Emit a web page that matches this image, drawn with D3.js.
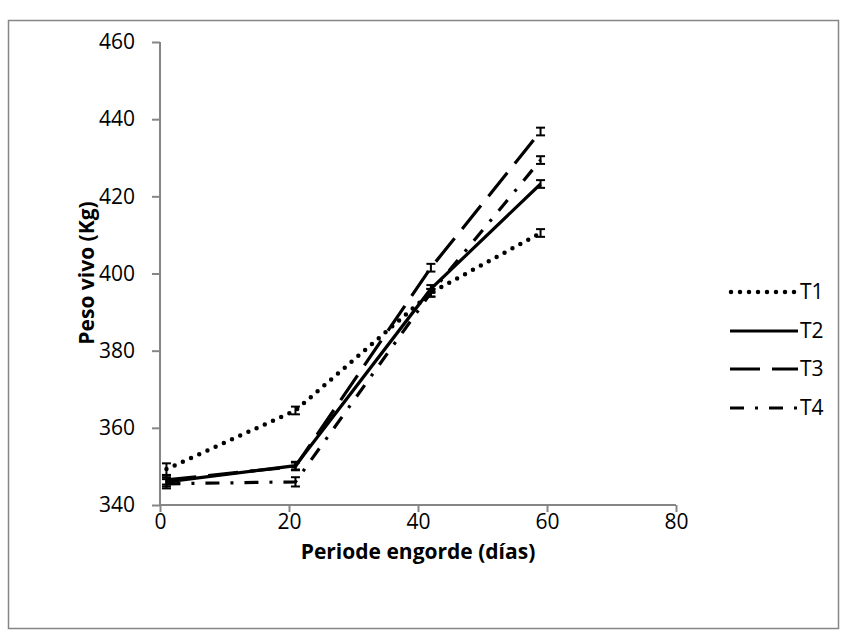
<!DOCTYPE html>
<html><head><meta charset="utf-8">
<script src="https://cdn.jsdelivr.net/npm/d3@7"></script>
<style>body{margin:0;background:#fff}svg{display:block}text{font-family:"Open Sans","Liberation Sans",sans-serif}</style>
</head><body><svg id="c" width="847" height="640"></svg>
<script>
const days = [1, 21, 42, 59];
const seriesNames = ["T1", "T2", "T3", "T4"];
const t1 = [349.3, 364.5, 395.0, 410.5];
const t2 = [346.0, 350.2, 396.0, 423.2];
const t3 = [346.5, 350.0, 401.5, 436.8];
const t4 = [345.5, 346.0, 395.0, 429.4];
const t1Err = [1.5, 1.0, 1.0, 1.0];
const t2Err = [1.2, 1.0, 1.0, 1.0];
const t3Err = [1.2, 1.0, 1.0, 1.0];
const t4Err = [1.2, 1.2, 1.0, 1.0];
const xTicks = [0, 20, 40, 60, 80];
const yTicks = [340, 360, 380, 400, 420, 440, 460];
const xTitle = "Periode engorde (días)";
const yTitle = "Peso vivo (Kg)";

const values = [t1, t2, t3, t4];
const errs = [t1Err, t2Err, t3Err, t4Err];
const dashes = ["0,9", null, "30,12", "14,11,3,11"];
const caps = ["round", "butt", "butt", "butt"];
const FS = "21px";

const svg = d3.select("#c");
svg.append("rect").attr("x", 8.5).attr("y", 20.5).attr("width", 830).attr("height", 608)
  .attr("fill", "#fff").attr("stroke", "#868686").attr("stroke-width", 1.5);

const x = d3.scaleLinear().domain([0, 80]).range([160, 676]);
const y = d3.scaleLinear().domain([340, 460]).range([505, 42]);

const xAxis = svg.append("g").attr("transform", "translate(0,505)")
  .call(d3.axisBottom(x).tickValues(xTicks).tickSize(7).tickPadding(2));
const yAxis = svg.append("g").attr("transform", "translate(160,0)")
  .call(d3.axisLeft(y).tickValues(yTicks).tickSize(8).tickPadding(17));
[xAxis, yAxis].forEach(a => {
  a.selectAll("path,line").attr("stroke", "#868686").attr("stroke-width", 2);
  a.selectAll("text").attr("fill", "#000").style("font-size", FS)
    .style("font-family", "'Open Sans','Liberation Sans',sans-serif");
});
yAxis.select(".domain").attr("d", "M0,505V42");
xAxis.select(".domain").attr("d", "M160,0H676");

svg.append("text").attr("x", 418).attr("y", 559).attr("text-anchor", "middle")
  .style("font-size", FS).style("font-weight", "bold").text(xTitle);
svg.append("text").attr("transform", "translate(94,273) rotate(-90)").attr("text-anchor", "middle")
  .style("font-size", FS).style("font-weight", "bold").text(yTitle);

const line = d3.line().x((d, i) => x(days[i])).y(d => y(d));
values.forEach((vals, s) => {
  svg.append("path").datum(vals).attr("d", line).attr("fill", "none")
    .attr("stroke", "#000").attr("stroke-width", s === 0 ? 4.5 : 3.2)
    .attr("stroke-dasharray", dashes[s]).attr("stroke-linecap", caps[s]);
});
values.forEach((vals, s) => {
  vals.forEach((v, i) => {
    const cx = x(days[i]), e = errs[s][i];
    const g = svg.append("g").attr("stroke", "#000").attr("stroke-width", 2);
    g.append("line").attr("x1", cx).attr("x2", cx).attr("y1", y(v - e)).attr("y2", y(v + e));
    g.append("line").attr("x1", cx - 4.5).attr("x2", cx + 4.5).attr("y1", y(v - e)).attr("y2", y(v - e));
    g.append("line").attr("x1", cx - 4.5).attr("x2", cx + 4.5).attr("y1", y(v + e)).attr("y2", y(v + e));
  });
});

const legY = [292, 331, 369, 408];
seriesNames.forEach((n, s) => {
  svg.append("line").attr("x1", s === 0 ? 731 : 730).attr("x2", 798).attr("y1", legY[s]).attr("y2", legY[s])
    .attr("stroke", "#000").attr("stroke-width", s === 0 ? 4.5 : 3.2)
    .attr("stroke-dasharray", dashes[s]).attr("stroke-linecap", caps[s]);
  svg.append("text").attr("x", 800).attr("y", legY[s] + 7).style("font-size", FS).text(n);
});
</script></body></html>
